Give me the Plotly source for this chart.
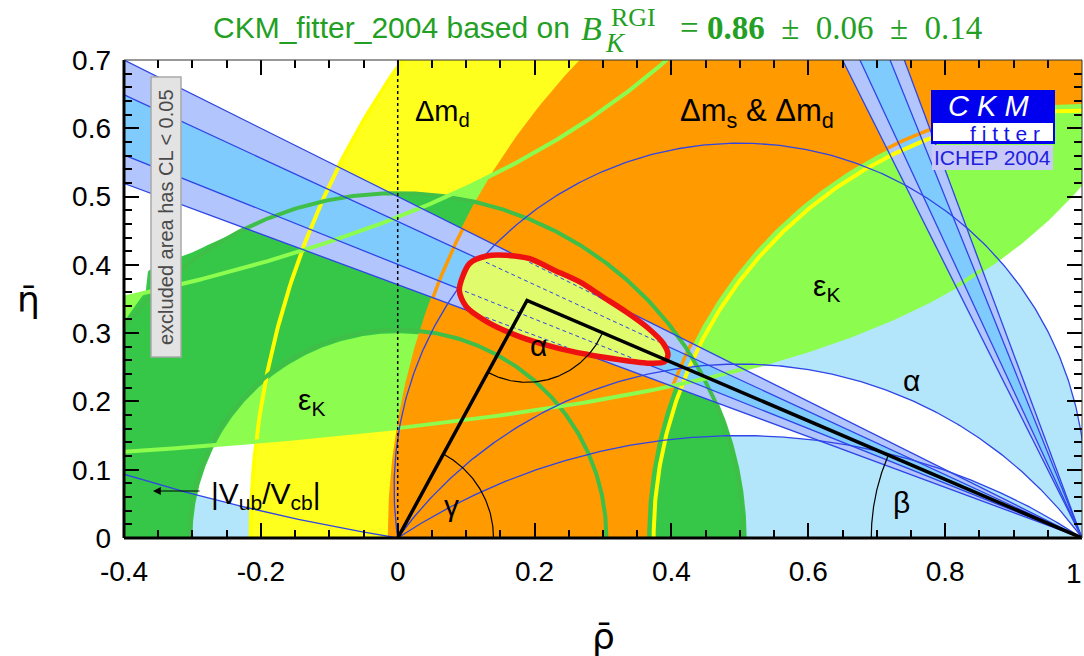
import numpy as np
import plotly.graph_objects as go

# ---------------- data ----------------
rho_range = [-0.4, 1.0]
eta_range = [0.0, 0.7]
x_tickvals = [-0.4, -0.2, 0.0, 0.2, 0.4, 0.6, 0.8, 1.0]
x_ticktext = ["-0.4", "-0.2", "0", "0.2", "0.4", "0.6", "0.8", ""]
y_tickvals = [0.0, 0.1, 0.2, 0.3, 0.4, 0.5, 0.6, 0.7]
y_ticktext = ["0", "0.1", "0.2", "0.3", "0.4", "0.5", "0.6", "0.7"]

# |Vub/Vcb| region around (0,0): inner radius, outer contour r(theta)
vub_inner_r = 0.300
vub_outer_theta = [0, 116, 125, 133, 135.5, 142, 180]
vub_outer_r = [0.510, 0.505, 0.513, 0.535, 0.516, 0.509, 0.510]
vub_line_radii = [0.305, 0.505]
# Delta m_d annulus around (1,0)
dmd_radii = [0.626, 1.215]
# Delta m_s & Delta m_d annulus around (1,0)
dms_radii = [0.638, 1.012]
# eps_K band: eta = A / (B - rho)  (lower, upper)
epsk_A = [0.233, 0.562]
epsk_B = [1.448, 1.196]
# sin(2 beta): tan(beta) of band edges (outer, inner, inner, outer)
tan_beta = [0.371, 0.4007, 0.4636, 0.500]
# alpha constraint boundaries (degrees)
alpha_limits = [9.3, 81.7, 126.0, 146.6]
# global fit 95% CL contour
cl_rho = [0.090, 0.105, 0.130, 0.159, 0.193, 0.227, 0.266, 0.300, 0.334, 0.364,
          0.388, 0.395, 0.390, 0.368, 0.325, 0.276, 0.227, 0.178, 0.130, 0.100]
cl_eta = [0.363, 0.402, 0.413, 0.414, 0.409, 0.393, 0.375, 0.353, 0.331, 0.309,
          0.285, 0.268, 0.258, 0.256, 0.261, 0.269, 0.280, 0.295, 0.317, 0.339]
# unitarity triangle apex
apex = [0.189, 0.348]
angle_radii = [0.14, 0.12, 0.308]  # gamma, alpha, beta

# ---------------- style ----------------
C_ALPHA = "#b3e6fb"
C_DMD = "#ffff1e"
C_EPSK = "#8cfd4e"
C_VUB = "#37c748"
C_VUBLINE = "#3fbf47"
C_DMS = "#ff9a00"
C_SB_OUT = "#b2c6fd"
C_SB_IN = "#80cbfe"
C_BLUE = "#2f45e6"
C_RED = "#ee1111"
C_CL = "#e0fb6c"
C_TITLE = "#23a023"


def arc(cx, cy, r, t0, t1, n=400):
    t = np.radians(np.linspace(t0, t1, n))
    return cx + r * np.cos(t), cy + r * np.sin(t)


def alpha_circle(a_deg):
    c = 0.5 / np.tan(np.radians(a_deg))
    R = np.hypot(0.5, c)
    t0 = np.degrees(np.arctan2(-c, 0.5))
    t1 = np.degrees(np.arctan2(-c, -0.5))
    if t1 < t0:
        t1 += 360
    return c, R, t0, t1


def annulus(cx, r_in, r_out):
    xo, yo = arc(cx, 0, r_out, 0, 180)
    xi, yi = arc(cx, 0, r_in, 180, 0)
    return np.r_[xo, xi], np.r_[yo, yi]


def inside(px, py, vx, vy):
    vx = np.asarray(vx); vy = np.asarray(vy)
    res = np.zeros(len(px), dtype=bool)
    n = len(vx)
    for i in range(n):
        j = (i - 1) % n
        cond = ((vy[i] > py) != (vy[j] > py)) & \
               (px < (vx[j] - vx[i]) * (py - vy[i]) / (vy[j] - vy[i] + 1e-12) + vx[i])
        res ^= cond
    return res


fig = go.Figure()


def fill(x, y, color):
    fig.add_trace(go.Scatter(x=list(x), y=list(y), mode="lines", fill="toself",
                             fillcolor=color, line=dict(width=0, color=color),
                             hoverinfo="skip", showlegend=False))


def line(x, y, color, width, dash=None, shape="linear"):
    fig.add_trace(go.Scatter(x=list(x), y=list(y), mode="lines",
                             line=dict(color=color, width=width, dash=dash, shape=shape),
                             hoverinfo="skip", showlegend=False, connectgaps=False))


# ---- alpha regions (light blue) ----
c1, R1, a0, a1 = alpha_circle(alpha_limits[1])
c2, R2, b0, b1 = alpha_circle(alpha_limits[2])
xa, ya = arc(0.5, c1, R1, a0, a1)
xb, yb = arc(0.5, c2, R2, b1, b0)
fill(np.r_[xa, xb], np.r_[ya, yb], C_ALPHA)
c3, R3, d0, d1 = alpha_circle(alpha_limits[3])
xc, yc = arc(0.5, c3, R3, d0, d1)
fill(xc, yc, C_ALPHA)
c4, R4, e0, e1 = alpha_circle(alpha_limits[0])
xd, yd = arc(0.5, c4, R4, e1 - 12, e1)
fill(np.r_[xd, xd[0]], np.r_[yd, 0.0], C_ALPHA)

# ---- Delta m_d (yellow) ----
x, y = annulus(1.0, dmd_radii[0], dmd_radii[1])
fill(x, y, C_DMD)

# ---- eps_K (light green) ----
rr = np.linspace(-0.5, 1.1, 500)
lo = epsk_A[0] / (epsk_B[0] - rr)
hi = np.minimum(epsk_A[1] / (epsk_B[1] - rr), 1.0)
fill(np.r_[rr, rr[::-1]], np.r_[lo, hi[::-1]], C_EPSK)

# ---- |Vub/Vcb| (dark green) ----
th = np.linspace(0, 180, 600)
ro = np.interp(th, vub_outer_theta, vub_outer_r)
xo, yo = ro * np.cos(np.radians(th)), ro * np.sin(np.radians(th))
xi, yi = arc(0, 0, vub_inner_r, 180, 0)
fill(np.r_[xo, xi], np.r_[yo, yi], C_VUB)

# ---- Delta m_s & Delta m_d (orange) ----
x, y = annulus(1.0, dms_radii[0], dms_radii[1])
fill(x, y, C_DMS)

# ---- sin 2beta bands ----
L = 1.5
for (ka, kb, col) in [(tan_beta[0], tan_beta[3], C_SB_OUT), (tan_beta[1], tan_beta[2], C_SB_IN)]:
    fill([1.0, 1 - L, 1 - L], [0.0, ka * L, kb * L], col)
    fill([1.0, 1 - 0.8 * ka, 1 - 0.8 * kb], [0.0, 0.8, 0.8], col)

# ---- boundary lines ----
for r in dmd_radii:
    x, y = arc(1.0, 0, r, 0, 180)
    line(x, y, "#ffff00", 4)
for r in dms_radii:
    x, y = arc(1.0, 0, r, 0, 180)
    line(x, y, C_DMS, 3.5)
for r in vub_line_radii:
    x, y = arc(0.0, 0, r, 0, 180)
    line(x, y, C_VUBLINE, 4)
line(rr, lo, C_EPSK, 4)
mask = hi < 1.0
line(rr[mask], hi[mask], C_EPSK, 4)
# alpha arcs
line(xa, ya, C_BLUE, 1.3)
line(xb, yb, C_BLUE, 1.3)
line(xc, yc, C_BLUE, 1.3)
line(xd, yd, C_BLUE, 1.3)
# sin 2beta lines
for k in tan_beta:
    line([1.0, 1 - L], [0.0, k * L], C_BLUE, 1.3)
    line([1.0, 1 - 0.8 * k], [0.0, 0.8], C_BLUE, 1.3)

# rho = 0 dotted
line([0, 0], [0, 0.7], "black", 1.5, dash="dot")

# ---- global fit contour ----
fig.add_trace(go.Scatter(x=cl_rho + [cl_rho[0]], y=cl_eta + [cl_eta[0]], mode="lines",
                         fill="toself", fillcolor=C_CL,
                         line=dict(color=C_RED, width=5.5, shape="spline", smoothing=0.8),
                         hoverinfo="skip", showlegend=False))
cx0, cy0 = np.mean(cl_rho), np.mean(cl_eta)
shr_x = cx0 + 0.95 * (np.array(cl_rho) - cx0)
shr_y = cy0 + 0.93 * (np.array(cl_eta) - cy0)
rs = np.linspace(0.0, 0.5, 800)
for k in tan_beta:
    es = k * (1 - rs)
    m = inside(rs, es, shr_x, shr_y)
    line(rs, np.where(m, es, np.nan), C_BLUE, 1, dash="4px,3px")

# ---- unitarity triangle and angles ----
line([0, apex[0], 1.0], [0, apex[1], 0], "black", 3.5)
g_ang = np.degrees(np.arctan2(apex[1], apex[0]))
x, y = arc(0, 0, angle_radii[0], 0, g_ang, 100)
line(x, y, "black", 1.2)
t_a0 = np.degrees(np.arctan2(-apex[1], -apex[0]))
t_a1 = np.degrees(np.arctan2(-apex[1], 1 - apex[0]))
x, y = arc(apex[0], apex[1], angle_radii[1], t_a0, t_a1, 100)
line(x, y, "black", 1.2)
b_ang = np.degrees(np.arctan2(apex[1], 1 - apex[0]))
x, y = arc(1.0, 0, angle_radii[2], 180 - b_ang, 180, 100)
line(x, y, "black", 1.2)

# ---------------- layout ----------------
W, H = 1084, 656
ML, MR, MT, MB = 124, 2, 60, 118
PW, PH = W - ML - MR, H - MT - MB


def px2x(px):
    return rho_range[0] + (px - ML) / PW * (rho_range[1] - rho_range[0])


def py2y(py):
    return (MT + PH - py) / PH * (eta_range[1] - eta_range[0])


def pxp(px):
    return (px - ML) / PW


def pyp(py):
    return (MT + PH - py) / PH


x_minor = [round(v, 3) for v in np.arange(-0.4, 1.0001, 0.05)]
y_minor = [round(v, 3) for v in np.arange(0.0, 0.7001, 0.02)]
axfont = dict(family="Liberation Sans, Arial", size=28, color="black")

common = dict(showgrid=False, zeroline=False, showline=False, mirror="ticks",
              ticks="inside", ticklen=15, tickwidth=2, tickcolor="black", automargin=False,
              tickmode="array", tickfont=axfont)

fig.update_layout(
    width=W, height=H, margin=dict(l=ML, r=MR, t=MT, b=MB, autoexpand=False),
    paper_bgcolor="white", plot_bgcolor="white", showlegend=False,
    font=dict(family="Liberation Sans, Arial", color="black"),
    xaxis=dict(range=rho_range, tickvals=x_tickvals, ticktext=x_ticktext,
               ticklabelstandoff=14,
               minor=dict(ticks="inside", ticklen=8, tickwidth=1.5, tickcolor="black",
                          tickmode="array", tickvals=x_minor, showgrid=False), **common),
    yaxis=dict(range=eta_range, tickvals=y_tickvals, ticktext=y_ticktext,
               ticklabelstandoff=12,
               minor=dict(ticks="inside", ticklen=8, tickwidth=1.5, tickcolor="black",
                          tickmode="array", tickvals=y_minor, showgrid=False), **common),
)

shapes = []
# frame: thick left/bottom, thin top/right
shapes.append(dict(type="line", xref="paper", yref="paper", x0=0, x1=1, y0=0, y1=0,
                   line=dict(color="black", width=3), layer="above"))
shapes.append(dict(type="line", xref="paper", yref="paper", x0=0, x1=0, y0=0, y1=1,
                   line=dict(color="black", width=3), layer="above"))
shapes.append(dict(type="line", xref="paper", yref="paper", x0=0, x1=1, y0=1, y1=1,
                   line=dict(color="#333333", width=1), layer="above"))
shapes.append(dict(type="line", xref="paper", yref="paper", x0=1, x1=1, y0=0, y1=1,
                   line=dict(color="#333333", width=1), layer="above"))
# excluded-area box
shapes.append(dict(type="rect", xref="x", yref="y", x0=px2x(151), x1=px2x(181),
                   y0=py2y(357), y1=py2y(77), fillcolor="#e3e3e3",
                   line=dict(color="#a9a9a9", width=1.5), layer="above"))
# logo boxes
shapes.append(dict(type="rect", xref="x", yref="y", x0=px2x(931), x1=px2x(1055),
                   y0=py2y(144), y1=py2y(90), fillcolor="#0000ee", line=dict(width=0), layer="above"))
shapes.append(dict(type="rect", xref="x", yref="y", x0=px2x(933), x1=px2x(1053),
                   y0=py2y(141), y1=py2y(123), fillcolor="white", line=dict(width=0), layer="above"))
shapes.append(dict(type="rect", xref="x", yref="y", x0=px2x(932), x1=px2x(1053),
                   y0=py2y(170), y1=py2y(145), fillcolor="#c9c9f7", line=dict(width=0), layer="above"))
fig.update_layout(shapes=shapes)

ann = []


def label(text, xv, yv, size=28, color="black", family="Liberation Sans, Arial", xanchor="center",
          yanchor="middle", xref="x", yref="y", angle=0):
    ann.append(dict(text=text, x=xv, y=yv, xref=xref, yref=yref, showarrow=False,
                    xanchor=xanchor, yanchor=yanchor, textangle=angle,
                    font=dict(size=size, color=color, family=family)))


label("Δm<sub>d</sub>", px2x(442), py2y(113), 29)
label("Δm<sub>s</sub> &amp; Δm<sub>d</sub>", px2x(757), py2y(113), 31)
label("ε<sub>K</sub>", px2x(826), py2y(287), 30)
label("ε<sub>K</sub>", px2x(311), py2y(401), 30)
label("α", px2x(911), py2y(380), 30)
label("α", px2x(538), py2y(345), 30)
label("γ", px2x(451), py2y(505), 30)
label("β", px2x(901), py2y(502), 30)
label("|V<sub>ub</sub>/V<sub>cb</sub>|", px2x(266), py2y(495), 30)
label("excluded area has CL &lt; 0.05", px2x(166), py2y(217), 20, color="#4a4a4a", angle=-90)
# last x tick label, kept inside the page
label("1", 1.0 + 2.0 / PW, pyp(573), 28, xref="paper", yref="paper", xanchor="right")
# logo text
label("<i>C K M</i>", px2x(988), py2y(106), 29, color="white")
label("f i t t e r", px2x(1005), py2y(133), 21, color="#1414e8")
label("ICHEP 2004", px2x(992), py2y(157), 21, color="#2020e0")
# axis titles
label("η̄", pxp(28), 0.5, 36, xref="paper", yref="paper", family="DejaVu Sans")
label("ρ̄", 0.5, pyp(636), 36, xref="paper", yref="paper", family="DejaVu Sans")
# title
label("CKM_fitter_2004 based on", pxp(572), pyp(27), 30, color=C_TITLE, xref="paper",
      yref="paper", xanchor="right")
label("<i>B</i>", pxp(579), pyp(28), 34, color=C_TITLE, family="Liberation Serif",
      xref="paper", yref="paper", xanchor="left")
label("RGI", pxp(609), pyp(17), 26, color=C_TITLE, family="Liberation Serif",
      xref="paper", yref="paper", xanchor="left")
label("<i>K</i>", pxp(603), pyp(43), 27, color=C_TITLE, family="Liberation Serif",
      xref="paper", yref="paper", xanchor="left")
label("= <b>0.86</b>&nbsp;&nbsp;±&nbsp;&nbsp;0.06&nbsp;&nbsp;±&nbsp;&nbsp;0.14", pxp(678), pyp(28), 33,
      color=C_TITLE, family="Liberation Serif", xref="paper", yref="paper", xanchor="left")
# arrow for |Vub/Vcb|
ann.append(dict(x=px2x(153), y=py2y(491), ax=px2x(201), ay=py2y(491), xref="x", yref="y",
                axref="x", ayref="y", text="", showarrow=True, arrowhead=2, arrowsize=1.3,
                arrowwidth=1.2, arrowcolor="black"))
fig.update_layout(annotations=ann)

fig.write_html("out.html")
